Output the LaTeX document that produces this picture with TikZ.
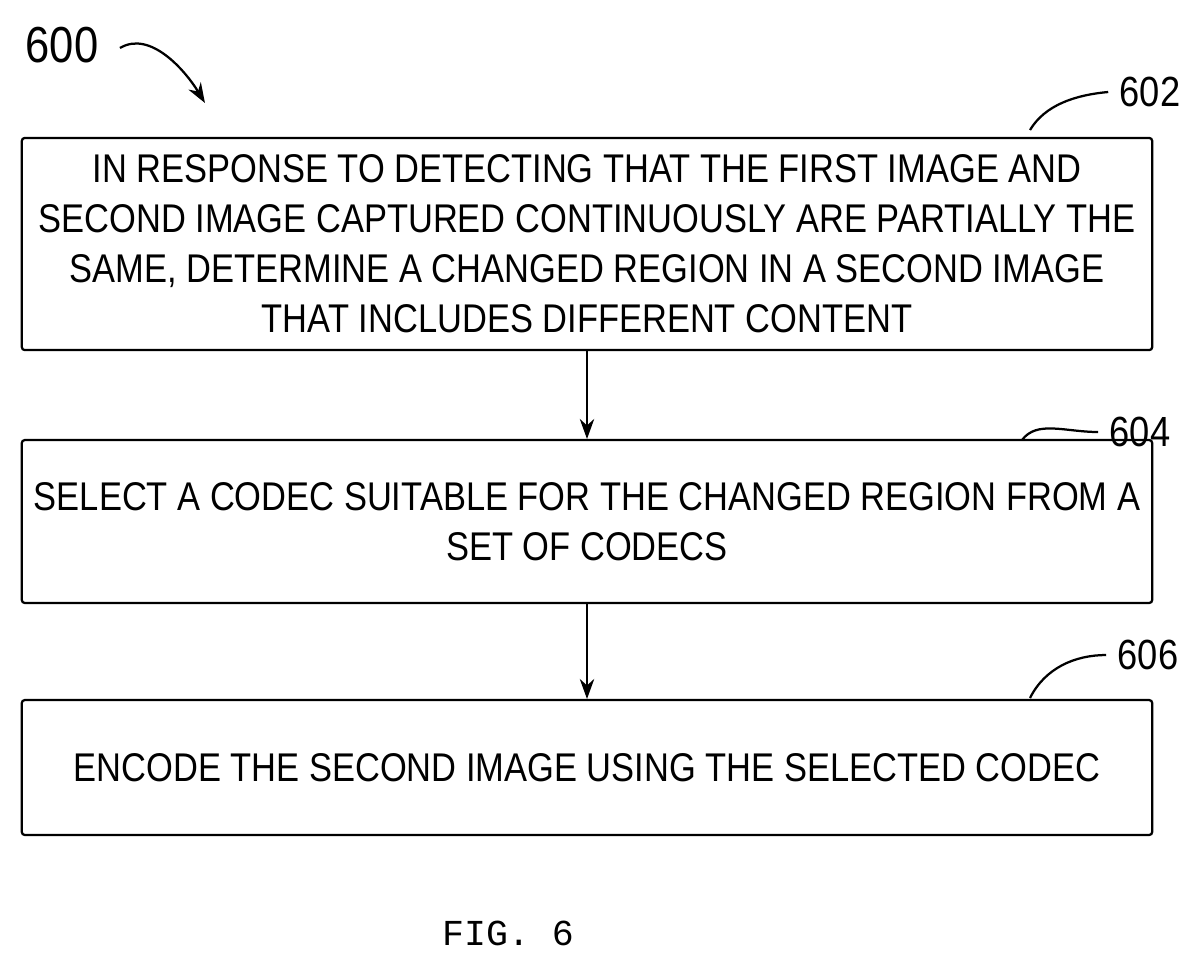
\documentclass[tikz,border=0pt]{standalone}
\usepackage{fontspec}
\setmainfont[FakeStretch=0.86]{Liberation Sans}
\newfontfamily\figfont{Liberation Mono}
\usetikzlibrary{arrows.meta,positioning}
\begin{document}
\begin{tikzpicture}[x=0.025cm,y=-0.025cm,
  stepbox/.style={rectangle, draw, line width=1.6pt, rounded corners=2pt,
               minimum width=28.25cm, align=center,
               font=\fontsize{28.5}{35.5}\selectfont, inner sep=0pt},
  arr/.style={-{Stealth[length=5mm,width=3.6mm]}, line width=1.6pt},
  lbl/.style={font=\fontsize{30}{34}\selectfont, inner sep=0pt}
]
  \useasboundingbox (0,0) rectangle (1201,969);
  % steps
  \node[stepbox, minimum height=5.3cm] (s602) at (587,244)
    {IN RESPONSE TO DETECTING THAT THE FIRST IMAGE AND\\
     SECOND IMAGE CAPTURED CONTINUOUSLY ARE PARTIALLY THE\\
     SAME, DETERMINE A CHANGED REGION IN A SECOND IMAGE\\
     THAT INCLUDES DIFFERENT CONTENT};
  \node[stepbox, minimum height=4.07cm] (s604) at (587,521.5)
    {SELECT A CODEC SUITABLE FOR THE CHANGED REGION FROM A\\
     SET OF CODECS};
  \node[stepbox, minimum height=3.37cm] (s606) at (587,767.5)
    {ENCODE THE SECOND IMAGE USING THE SELECTED CODEC};

  \draw[arr] (s602) -- (s604);
  \draw[arr] (s604) -- (s606);

  % reference numerals
  \node[lbl, font=\fontsize{36}{40}\selectfont] (n600) at (62,45) {600};
  \coordinate (b600) at (120,48);
  \coordinate (a600) at (205,103);
  \draw[arr] (b600) .. controls (150,30) and (185,70) .. (a600);

  \node[lbl] (n602) at (1150,92) {602};
  \coordinate (c602) at (1030,130);
  \draw[line width=1.6pt] (c602) .. controls (1045,105) and (1075,95) .. ([xshift=-8pt]n602.west);

  \node[lbl] (n604) at (1140,432) {604};
  \coordinate (c604) at (1022,440);
  \draw[line width=1.6pt] (c604) .. controls (1037,420) and (1065,432) .. ([xshift=-8pt]n604.west);

  \node[lbl] (n606) at (1148,655) {606};
  \coordinate (c606) at (1030,698);
  \draw[line width=1.6pt] (c606) .. controls (1045,668) and (1075,655) .. ([xshift=-8pt]n606.west);

  \node[font=\figfont\fontsize{26}{30}\selectfont] (fig) at (508,933) {FIG. 6};
\end{tikzpicture}
\end{document}
